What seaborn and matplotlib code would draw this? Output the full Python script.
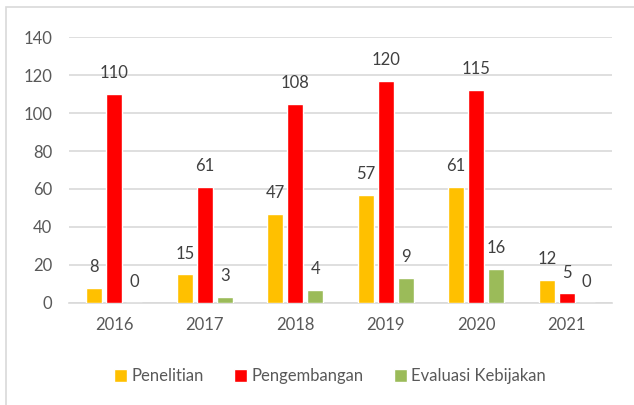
import matplotlib
matplotlib.use("Agg")
import matplotlib.pyplot as plt
import seaborn as sns
import pandas as pd
from matplotlib.patches import Rectangle

years = ["2016", "2017", "2018", "2019", "2020", "2021"]
series = ["Penelitian", "Pengembangan", "Evaluasi Kebijakan"]
penelitian = [8, 15, 47, 57, 61, 12]
pengembangan = [110, 61, 105, 117, 112, 5]
evaluasi = [0, 3, 7, 13, 18, 0]
penelitian_labels = ["8", "15", "47", "57", "61", "12"]
pengembangan_labels = ["110", "61", "108", "120", "115", "5"]
evaluasi_labels = ["0", "3", "4", "9", "16", "0"]
colors = ["#FFC000", "#FF0000", "#9BBB59"]

values = [penelitian, pengembangan, evaluasi]
labels = [penelitian_labels, pengembangan_labels, evaluasi_labels]

rows = []
for s, vals in zip(series, values):
    for y, v in zip(years, vals):
        rows.append({"Tahun": y, "Kategori": s, "Jumlah": v})
df = pd.DataFrame(rows)

sns.set_style("white")
plt.rcParams["font.family"] = ["Lato", "DejaVu Sans"]

fig = plt.figure(figsize=(6.34, 4.05), dpi=100)
ax = fig.add_axes([0.1088, 0.2519, 0.9653 - 0.1088, 0.9086 - 0.2519])

sns.barplot(data=df, x="Tahun", y="Jumlah", hue="Kategori", order=years,
            hue_order=series, palette=colors, width=0.663, gap=0.22,
            saturation=1, ax=ax, legend=True, zorder=3)

for cont, labs in zip(ax.containers, labels):
    for rect, lab in zip(cont, labs):
        x = rect.get_x() + rect.get_width() / 2
        h = rect.get_height()
        ax.annotate(lab, (x, h), xytext=(0, 15), textcoords="offset points",
                    ha="center", va="center", fontsize=12, color="#404040")

ax.set_ylim(0, 140)
ax.set_xlim(-0.5, 5.5)
ax.set_yticks(range(0, 141, 20))
ax.yaxis.grid(True, color="#d9d9d9", linewidth=1.2, zorder=0)
ax.set_axisbelow(True)
for side in ["top", "right", "left"]:
    ax.spines[side].set_visible(False)
ax.spines["bottom"].set_color("#d9d9d9")
ax.spines["bottom"].set_linewidth(1.2)
ax.tick_params(axis="both", length=0, labelsize=12, colors="#595959")
ax.tick_params(axis="y", pad=12)
ax.tick_params(axis="x", pad=10)
ax.set_xlabel("")
ax.set_ylabel("")

handles, lbls = ax.get_legend_handles_labels()
ax.legend(handles, lbls, loc="center", bbox_to_anchor=(330 / 634, 1 - 376 / 405),
          bbox_transform=fig.transFigure, ncol=3, frameon=False,
          fontsize=12, handlelength=0.8, handleheight=0.8,
          handletextpad=0.25, columnspacing=1.8, labelcolor="#595959")

fig.patches.append(Rectangle((6 / 634, -0.1), 1.2, 1 - 7 / 405 + 0.1,
                             transform=fig.transFigure, fill=False,
                             edgecolor="#d9d9d9", linewidth=1.2))

fig.savefig("out.png", dpi=100)
